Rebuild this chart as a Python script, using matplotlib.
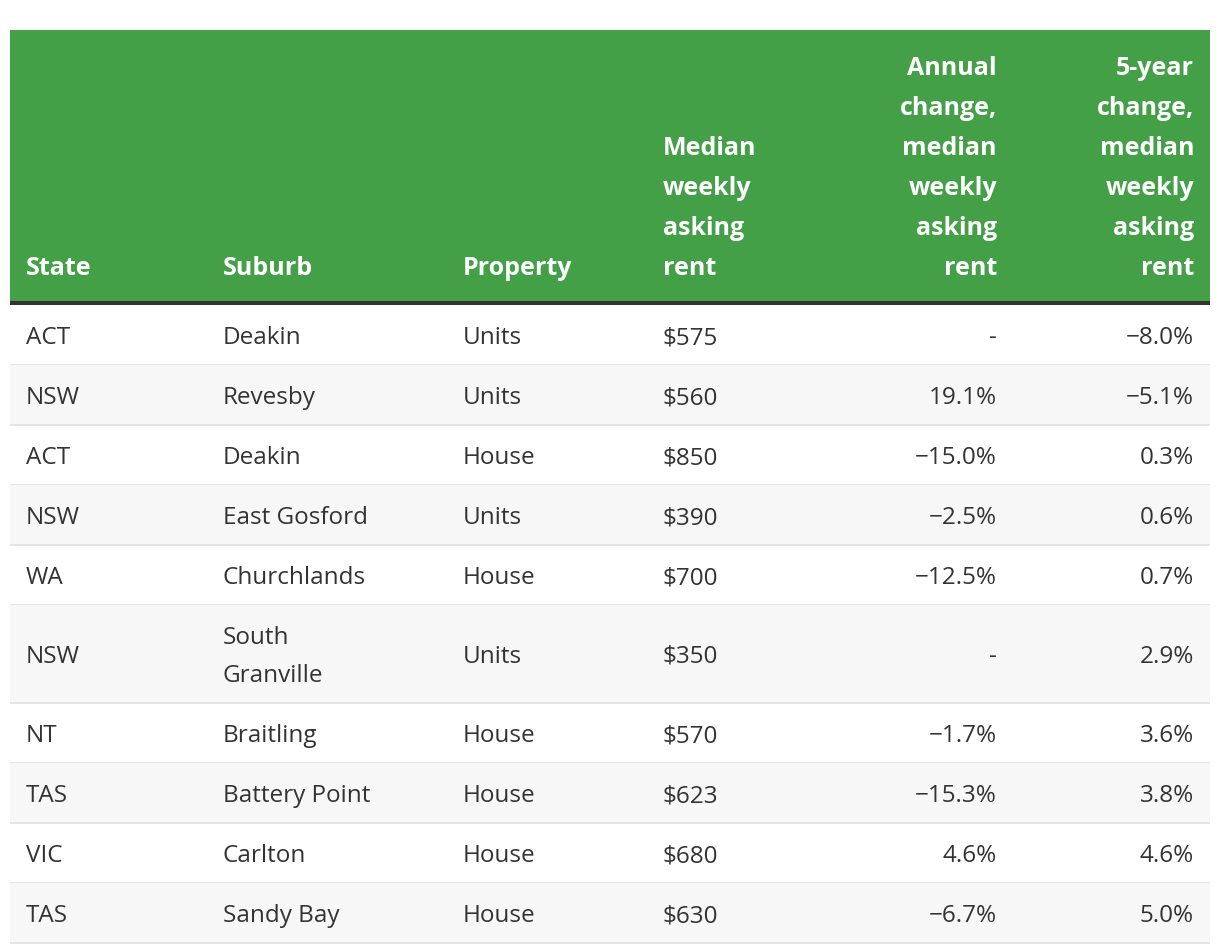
import matplotlib
matplotlib.use("Agg")
import matplotlib.pyplot as plt
from matplotlib.patches import Rectangle

# ---- data ----
headers = ["State", "Suburb", "Property", "Median\nweekly\nasking\nrent",
           "Annual\nchange,\nmedian\nweekly\nasking\nrent",
           "5-year\nchange,\nmedian\nweekly\nasking\nrent"]
states = ["ACT", "NSW", "ACT", "NSW", "WA", "NSW", "NT", "TAS", "VIC", "TAS"]
suburbs = ["Deakin", "Revesby", "Deakin", "East Gosford", "Churchlands",
           "South\nGranville", "Braitling", "Battery Point", "Carlton", "Sandy Bay"]
properties = ["Units", "Units", "House", "Units", "House", "Units", "House",
              "House", "House", "House"]
rents = ["$575", "$560", "$850", "$390", "$700", "$350", "$570", "$623",
         "$680", "$630"]
annual_change = ["-", "19.1%", "\u221215.0%", "\u22122.5%", "\u221212.5%", "-",
                 "\u22121.7%", "\u221215.3%", "4.6%", "\u22126.7%"]
five_year_change = ["\u22128.0%", "\u22125.1%", "0.3%", "0.6%", "0.7%", "2.9%",
                    "3.6%", "3.8%", "4.6%", "5.0%"]

# ---- layout ----
W, H = 1220, 952
fig = plt.figure(figsize=(W / 100, H / 100), dpi=100)
ax = fig.add_axes([0, 0, 1, 1])
ax.set_xlim(0, W)
ax.set_ylim(H, 0)
ax.axis("off")

fam = ["Open Sans", "DejaVu Sans"]
green = "#43a047"
txt = "#333333"
shade = "#f7f7f7"
sep = "#e5e5e5"

left, right = 10, 1210
head_top, head_bot = 30, 302
col_x = [26, 223, 463, 663, 997, 1194]
col_ha = ["left", "left", "left", "left", "right", "right"]
fs_body = 17.5
fs_head = 18
head_lh = 40
body_lh = 37

ax.add_patch(Rectangle((left, head_top), right - left, head_bot - head_top,
                       color=green, lw=0))
ax.add_patch(Rectangle((left, head_bot - 1), right - left, 4, color="#333333", lw=0))

for x, ha, h in zip(col_x, col_ha, headers):
    lines = h.split("\n")
    n = len(lines)
    for k, ln in enumerate(lines):
        ax.text(x, 275 - (n - 1 - k) * head_lh, ln, ha=ha, va="baseline",
                color="white", fontsize=fs_head, fontweight="bold", family=fam)

# rows
y = 305
columns = [states, suburbs, properties, rents, annual_change, five_year_change]
for i in range(len(states)):
    nlines = max(len(c[i].split("\n")) for c in columns)
    rh = 60 if nlines == 1 else 98
    if i % 2 == 1:
        ax.add_patch(Rectangle((left, y), right - left, rh, color=shade, lw=0))
    ax.add_patch(Rectangle((left, y + rh - 1), right - left, 2, color=sep, lw=0))
    cy = y + rh / 2
    for x, ha, c in zip(col_x, col_ha, columns):
        lines = c[i].split("\n")
        n = len(lines)
        base0 = cy + 9 - (n - 1) * body_lh / 2
        for k, ln in enumerate(lines):
            ax.text(x, base0 + k * body_lh, ln, ha=ha, va="baseline", color=txt,
                    fontsize=fs_body, family=fam)
    y += rh

fig.savefig("out.png", dpi=100, facecolor="white")
